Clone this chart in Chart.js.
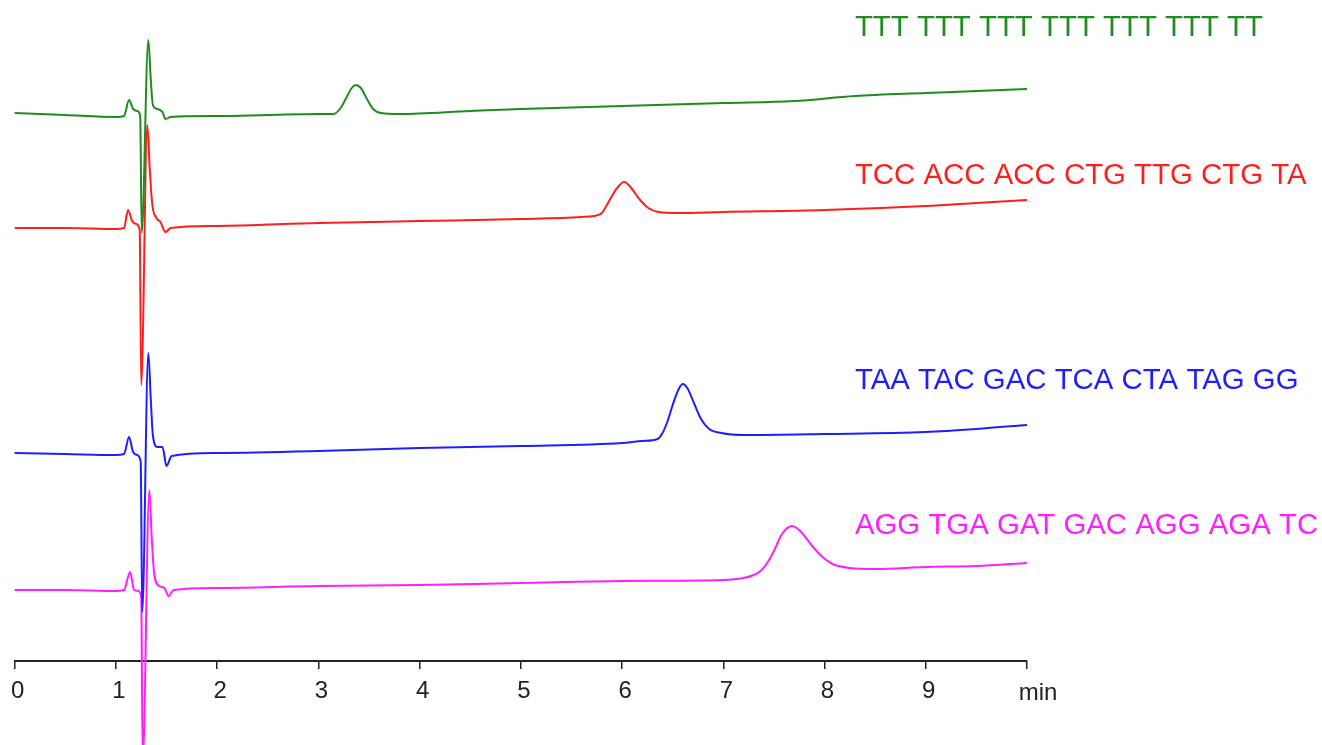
<!DOCTYPE html>
<html>
<head>
<meta charset="utf-8">
<script src="https://cdn.jsdelivr.net/npm/chart.js@4.4.1/dist/chart.umd.min.js"></script>
<style>
  html, body { margin: 0; padding: 0; background: #fff; }
  #wrap { width: 1322px; height: 745px; }
</style>
</head>
<body>
<div id="wrap"><canvas id="chrom" width="1322" height="745"></canvas></div>
<script>
// retention time (min) and detector signal
const greenTime   = [0, 0.5, 1.0, 1.08, 1.13, 1.17, 1.21, 1.24, 1.255, 1.32, 1.345, 1.365, 1.41, 1.46, 1.49, 1.54, 2.0, 2.5, 3.0, 3.15, 3.22, 3.28, 3.33, 3.37, 3.42, 3.48, 3.54, 3.62, 3.8, 4.5, 5.0, 6.0, 7.0, 7.7, 8.3, 9.0, 9.5, 10.0];
const greenSignal = [54.8, 54.6, 54.4, 54.5, 56.1, 55.2, 55.0, 54.5, 42.8, 62.1, 58.1, 55.6, 55.2, 54.9, 54.2, 54.4, 54.5, 54.6, 54.7, 54.7, 55.3, 56.4, 57.3, 57.6, 57.3, 56.2, 55.2, 54.8, 54.7, 55.0, 55.2, 55.5, 55.8, 56.0, 56.5, 56.8, 57.0, 57.2];

const redTime   = [0, 0.5, 1.0, 1.08, 1.12, 1.16, 1.2, 1.235, 1.25, 1.31, 1.335, 1.36, 1.40, 1.44, 1.49, 1.54, 2, 3, 4, 5, 5.6, 5.72, 5.8, 5.85, 5.9, 5.95, 6.02, 6.09, 6.17, 6.26, 6.36, 6.55, 7, 8, 9, 9.5, 10];
const redSignal = [43.3, 43.3, 43.2, 43.3, 45.1, 44.0, 43.7, 43.1, 27.6, 53.6, 49.1, 45.6, 44.3, 43.9, 42.9, 43.3, 43.5, 43.8, 44.0, 44.2, 44.4, 44.5, 44.8, 45.6, 46.5, 47.3, 47.9, 47.3, 46.2, 45.3, 44.9, 44.8, 44.9, 45.1, 45.5, 45.8, 46.1];

const blueTime   = [0, 0.5, 1.0, 1.08, 1.13, 1.17, 1.21, 1.245, 1.26, 1.32, 1.345, 1.365, 1.41, 1.46, 1.5, 1.55, 2, 3, 4, 5, 6, 6.2, 6.35, 6.4, 6.45, 6.5, 6.56, 6.6, 6.65, 6.71, 6.78, 6.86, 6.98, 7.2, 8, 9, 9.5, 10];
const blueSignal = [20.8, 20.7, 20.6, 20.7, 22.4, 20.9, 20.6, 19.9, 4.9, 30.8, 26.1, 22.6, 21.4, 21.4, 19.5, 20.5, 20.8, 21.0, 21.3, 21.5, 21.8, 22.0, 22.2, 22.8, 24.0, 25.6, 27.2, 27.7, 27.2, 25.8, 24.2, 23.2, 22.8, 22.6, 22.7, 22.9, 23.2, 23.6];

const magentaTime   = [0, 0.5, 1.0, 1.08, 1.14, 1.18, 1.22, 1.25, 1.265, 1.33, 1.355, 1.38, 1.43, 1.48, 1.52, 1.57, 2, 3, 4, 5, 6, 7, 7.2, 7.3, 7.38, 7.44, 7.5, 7.58, 7.68, 7.77, 7.87, 7.97, 8.08, 8.25, 8.5, 9, 9.5, 10];
const magentaSignal = [7.1, 7.1, 7.0, 7.1, 8.9, 7.1, 7.0, 6.4, -10, 17.1, 12.1, 8.6, 7.5, 7.3, 6.5, 7.1, 7.3, 7.5, 7.6, 7.8, 8.0, 8.1, 8.3, 8.6, 9.1, 9.9, 11.0, 12.7, 13.5, 12.9, 11.6, 10.5, 9.7, 9.3, 9.2, 9.4, 9.5, 9.8];

const sequences = ["TTT TTT TTT TTT TTT TTT TT", "TCC ACC ACC CTG TTG CTG TA", "TAA TAC GAC TCA CTA TAG GG", "AGG TGA GAT GAC AGG AGA TC"];
const xTicks = [0, 1, 2, 3, 4, 5, 6, 7, 8, 9];
const xUnit = "min";

const colors = ["#1f8c1f", "#ff1e1e", "#1e1eff", "#ff1eff"];
const FONT = "'Liberation Sans', Arial, sans-serif";

const toPoints = (t, s) => t.map((x, i) => ({ x: x, y: s[i] }));

const series = [
  toPoints(greenTime, greenSignal),
  toPoints(redTime, redSignal),
  toPoints(blueTime, blueSignal),
  toPoints(magentaTime, magentaSignal)
];

// sequence labels to the right and the "min" unit at the axis end
const labelPlugin = {
  id: "labels",
  afterDraw(chart) {
    const { ctx, scales: { x, y } } = chart;
    const anchors = [63.3, 48.5, 28.0, 13.5];
    ctx.save();
    ctx.font = "29.4px " + FONT;
    ctx.textBaseline = "middle";
    ctx.textAlign = "left";
    sequences.forEach((s, i) => {
      ctx.fillStyle = colors[i];
      ctx.fillText(s, x.getPixelForValue(8.3), y.getPixelForValue(anchors[i]));
    });
    ctx.font = "24px " + FONT;
    ctx.fillStyle = "#222";
    ctx.textAlign = "center";
    ctx.fillText(xUnit, x.getPixelForValue(10) + 11, chart.chartArea.bottom + 32);
    ctx.restore();
  }
};

new Chart(document.getElementById("chrom"), {
  type: "line",
  data: {
    datasets: series.map((d, i) => ({
      data: d,
      borderColor: colors[i],
      borderWidth: 2,
      pointRadius: 0,
      cubicInterpolationMode: "monotone",
      clip: false
    }))
  },
  options: {
    responsive: false,
    animation: false,
    layout: { padding: { left: 14, right: 295, top: 0, bottom: 0 } },
    plugins: { legend: { display: false }, tooltip: { enabled: false } },
    scales: {
      x: {
        type: "linear",
        min: 0,
        max: 10,
        afterFit: s => { s.height = 84; },
        afterBuildTicks: s => { s.ticks = xTicks.concat([10]).map(v => ({ value: v })); },
        ticks: {
          color: "#222",
          font: { family: FONT, size: 24 },
          padding: 8,
          labelOffset: 3,
          maxRotation: 0,
          autoSkip: false,
          callback: v => (xTicks.includes(v) ? String(v) : "")
        },
        grid: { drawOnChartArea: false, drawTicks: true, tickLength: 8, color: "#222", lineWidth: 1.5 },
        border: { display: true, color: "#222", width: 2 }
      },
      y: { display: false, min: 0, max: 66.1 }
    }
  },
  plugins: [labelPlugin]
});
</script>
</body>
</html>
